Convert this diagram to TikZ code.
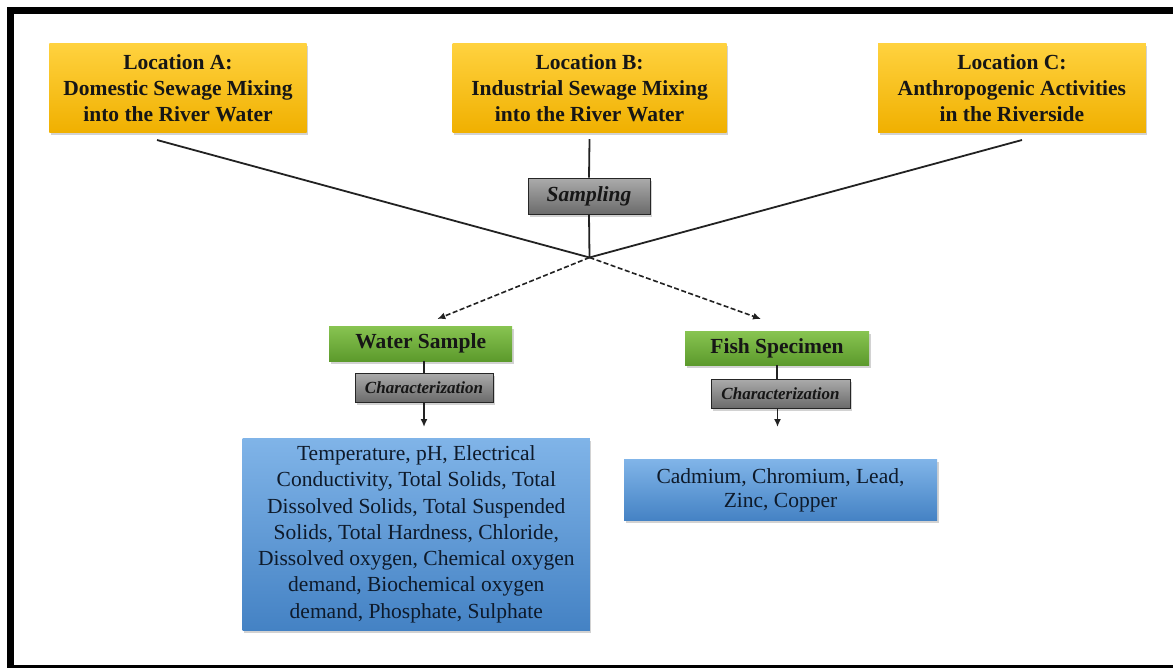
\documentclass[tikz,border=0pt]{standalone}
\usepackage{fontspec}
\setmainfont{Liberation Serif}
\usetikzlibrary{shadows,arrows.meta}
\definecolor{ytop}{HTML}{FFD23F}
\definecolor{ybot}{HTML}{F0B000}
\definecolor{gtop}{HTML}{88C451}
\definecolor{gbot}{HTML}{5C9A2C}
\definecolor{grtop}{HTML}{ABABAB}
\definecolor{grbot}{HTML}{6B6B6B}
\definecolor{btop}{HTML}{80B4E8}
\definecolor{bbot}{HTML}{4482C4}
\definecolor{txt}{HTML}{161616}
\definecolor{btxt}{HTML}{0E1A2A}
\definecolor{lnc}{HTML}{222222}
\begin{document}
\begin{tikzpicture}[x=1pt,y=-1pt,
  box/.style={inner sep=0pt, align=center,
    drop shadow={opacity=0.35, shadow xshift=1.5pt, shadow yshift=-2.5pt}},
  loc/.style={box, top color=ytop, bottom color=ybot, minimum height=89pt,
    font=\fontsize{21.5}{26}\selectfont\bfseries, text=txt},
  grn/.style={box, top color=gtop, bottom color=gbot,
    font=\fontsize{21.5}{26}\selectfont\bfseries, text=txt},
  gry/.style={box, top color=grtop, bottom color=grbot, draw=black!85, line width=0.9pt,
    text=txt},
  blu/.style={box, top color=btop, bottom color=bbot, text=btxt},
  conn/.style={draw=lnc, line width=1.8pt},
  dconn/.style={draw=lnc, line width=1.6pt, dash pattern=on 5pt off 2.5pt,
    -{Latex[length=8pt,width=7pt]}},
  aconn/.style={draw=lnc, line width=1.6pt, -{Latex[length=8pt,width=7pt]}}
]
\useasboundingbox (0,0) rectangle (1173,667);
\path[clip] (0,0) rectangle (1173,667);
\fill[white] (0,0) rectangle (1173,667);
\draw[line width=7pt] (10.5,10.5) rectangle (1190,668.5);

% top locations
\node[loc, minimum width=257.4pt] (A) at (178,88) {Location A:\\Domestic Sewage Mixing\\into the River Water};
\node[loc, minimum width=273.8pt] (B) at (589.6,88) {Location B:\\Industrial Sewage Mixing\\into the River Water};
\node[loc, minimum width=267.7pt] (C) at (1011.9,88) {Location C:\\Anthropogenic Activities\\in the Riverside};

% sampling
\node[gry, minimum width=122pt, minimum height=36pt,
  font=\fontsize{21.5}{26}\selectfont\bfseries\itshape] (S) at (589,196) {Sampling};

\coordinate (a1) at (157,140);
\coordinate (c1) at (1022,140);
\coordinate (X) at (589.5,257.5);

\draw[conn] (a1) -- (X);
\draw[conn] (c1) -- (X);
\draw[conn, shorten <=6.5pt] (B.south) -- (S.north);
\draw[conn] (S.south) -- (X);

% second level
\node[grn, minimum width=183pt, minimum height=35pt] (W) at (420.7,343.5) {Water Sample};
\node[grn, minimum width=184pt, minimum height=34pt] (F) at (777,348) {Fish Specimen};

\coordinate (wt) at (437.3,319);
\coordinate (ft) at (761,319);
\draw[dconn] (X) -- (wt);
\draw[dconn] (X) -- (ft);

\node[gry, minimum width=138pt, minimum height=29pt,
  font=\fontsize{17}{20}\selectfont\bfseries\itshape] (C1) at (424,387.5) {Characterization};
\node[gry, minimum width=139pt, minimum height=29pt,
  font=\fontsize{17}{20}\selectfont\bfseries\itshape] (C2) at (780.5,393.5) {Characterization};

\draw[conn] (C1.north |- W.south) -- (C1.north);
\draw[conn] (F.south) -- (F.south |- C2.north);

\coordinate (t1) at (424,427);
\coordinate (t2) at (777.5,427);
\draw[aconn] (C1.south) -- (t1);
\draw[aconn] (C2.south -| t2) -- (t2);

% results
\node[blu, minimum width=347.3pt, minimum height=191.7pt,
  font=\fontsize{21.5}{26.3}\selectfont] (R1) at (416.3,534.2)
  {Temperature, pH, Electrical\\Conductivity, Total Solids, Total\\Dissolved Solids, Total Suspended\\Solids, Total Hardness, Chloride,\\Dissolved oxygen, Chemical oxygen\\demand, Biochemical oxygen\\demand, Phosphate, Sulphate};
\node[blu, minimum width=313pt, minimum height=60.7pt,
  font=\fontsize{21.5}{24}\selectfont] (R2) at (780.5,490.3)
  {Cadmium, Chromium, Lead,\\Zinc, Copper};
\end{tikzpicture}
\end{document}
